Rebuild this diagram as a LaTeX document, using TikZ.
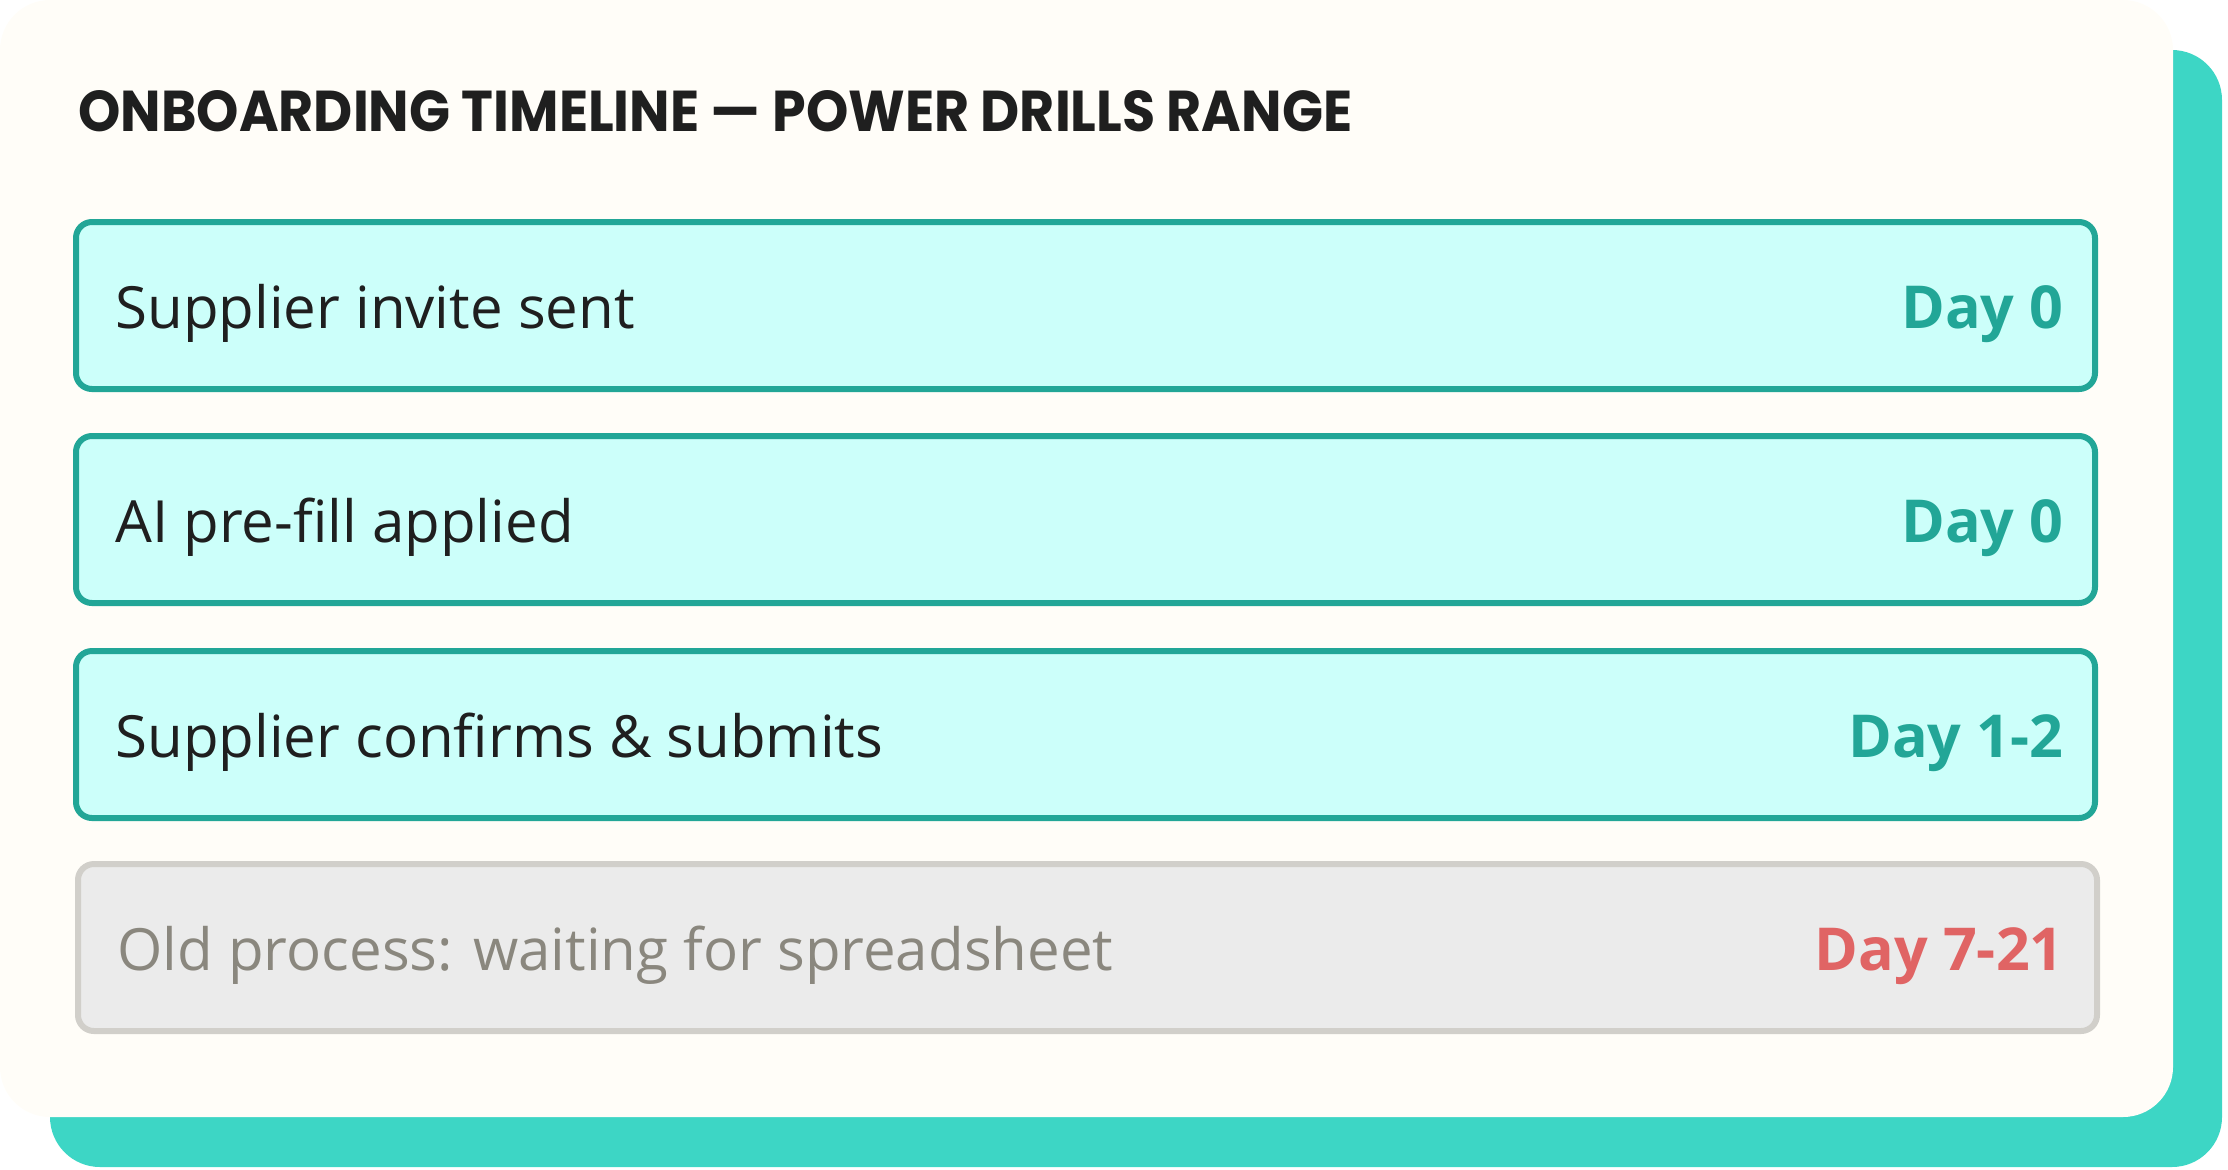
\documentclass[tikz,border=0pt]{standalone}
\usepackage{fontspec}
\setmainfont{Open Sans}
\newfontfamily\titlefont{Poppins}
\usetikzlibrary{calc}
\definecolor{cardcol}{HTML}{FFFDF8}
\definecolor{shadowcol}{HTML}{3DD6C5}
\definecolor{tealline}{HTML}{22A697}
\definecolor{tealfill}{HTML}{CCFFFA}
\definecolor{darktext}{HTML}{1F1F1F}
\definecolor{greyfill}{HTML}{EBEBEB}
\definecolor{greyline}{HTML}{D1CFCA}
\definecolor{greytext}{HTML}{8A877E}
\definecolor{redtext}{HTML}{E06464}
\tikzset{
  rowbox/.style={rectangle, rounded corners=8pt, line width=3pt,
    minimum width=1009.5pt, minimum height=83.5pt, inner sep=0pt, anchor=north west},
  tealbox/.style={rowbox, draw=tealline, fill=tealfill},
  greybox/.style={rowbox, draw=greyline, fill=greyfill},
  lbl/.style={inner sep=0pt, anchor=base west, font=\fontsize{29.1}{35}\selectfont, text=darktext},
  daylbl/.style={inner sep=0pt, anchor=base east, font=\fontsize{29.6}{35}\selectfont\bfseries, text=tealline},
}
\begin{document}
\begin{tikzpicture}[x=0.5pt,y=-0.5pt]
\useasboundingbox (0,0) rectangle (2228,1169);
% shadow and card
\fill[shadowcol, rounded corners=25pt] (50,50) rectangle (2222,1167);
\fill[cardcol, rounded corners=25pt] (0,0) rectangle (2173,1117);
% title
\node[inner sep=0pt, anchor=base west, text=darktext] (title) at (78,131)
  {\resizebox{637pt}{20.5pt}{\titlefont\bfseries ONBOARDING TIMELINE — POWER DRILLS RANGE}};
% rows
\node[tealbox] (b1) at (73,219) {};
\node[tealbox] (b2) at (73,433) {};
\node[tealbox] (b3) at (73,648) {};
\node[greybox] (b4) at (75,861) {};
\node[lbl] (t1) at ($(b1.west)+(42,23)$) {Supplier invite sent};
\node[lbl] (t2) at ($(b2.west)+(42,23)$) {AI pre-fill applied};
\node[lbl] (t3) at ($(b3.west)+(42,23)$) {Supplier confirms \& submits};
\node[lbl, text=greytext] (t4) at ($(b4.west)+(42,23)$) {Old process: waiting for spreadsheet};
\node[daylbl] (d1) at ($(b1.east)+(-34,23)$) {Day 0};
\node[daylbl] (d2) at ($(b2.east)+(-34,23)$) {Day 0};
\node[daylbl] (d3) at ($(b3.east)+(-34,23)$) {Day 1-2};
\node[daylbl, text=redtext] (d4) at ($(b4.east)+(-36,23)$) {Day 7-21};
\end{tikzpicture}
\end{document}
